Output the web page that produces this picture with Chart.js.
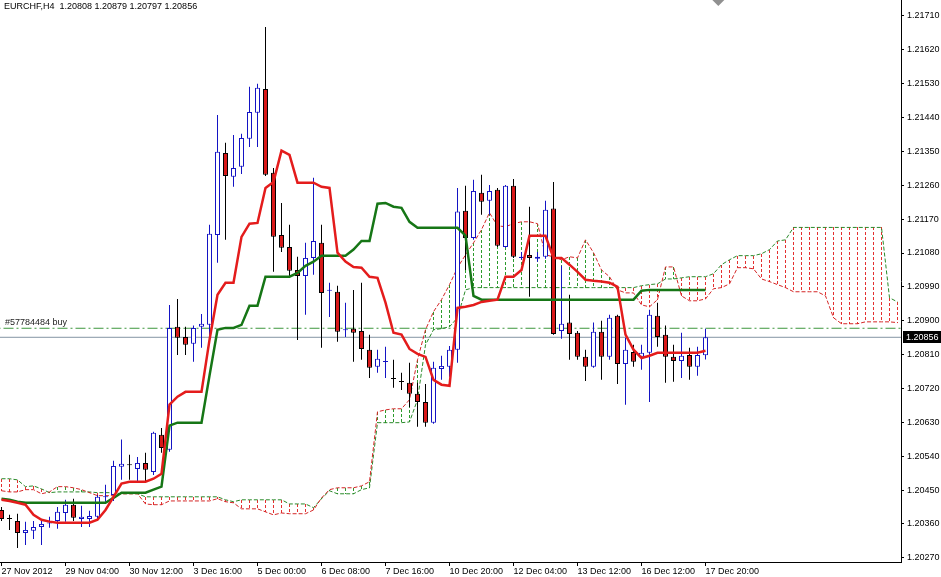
<!DOCTYPE html>
<html>
<head>
<meta charset="utf-8">
<script src="https://cdn.jsdelivr.net/npm/chart.js@4.4.0/dist/chart.umd.min.js"></script>
<style>
html, body { margin: 0; padding: 0; background: #fff; }
#wrap { width: 941px; height: 577px; }
</style>
</head>
<body>
<div id="wrap"><canvas id="chart" width="941" height="577"></canvas></div>
<script>
// EURCHF H4 candles, 27 Nov 2012 20:00 -> 17 Dec 2012 20:00
const opens = [
  1.20397, 1.20374, 1.20368, 1.20336, 1.20342, 1.20352, 1.20361, 1.20368, 1.20389, 1.20411,
  1.20373, 1.20373, 1.20379, 1.20431, 1.20437, 1.20512, 1.20517, 1.20506, 1.20522, 1.20498,
  1.20597, 1.20557, 1.20884, 1.20857, 1.20839, 1.20884, 1.20889, 1.21128, 1.21346, 1.21283,
  1.21309, 1.21384, 1.21453, 1.21516, 1.21293, 1.21128, 1.21096, 1.21035, 1.21019, 1.21067,
  1.21107, 1.20980, 1.20977, 1.20875, 1.20879, 1.20873, 1.20823, 1.20778, 1.20790, 1.20746,
  1.20738, 1.20735, 1.20706, 1.20684, 1.20629, 1.20772, 1.20778, 1.20823, 1.21192, 1.21120,
  1.21240, 1.21219, 1.21248, 1.21096, 1.21259, 1.21067, 1.21075, 1.21065, 1.21070, 1.21198,
  1.20873, 1.20895, 1.20868, 1.20804, 1.20778, 1.20871, 1.20804, 1.20913, 1.20785, 1.20817,
  1.20804, 1.20815, 1.20913, 1.20863, 1.20804, 1.20793, 1.20809, 1.20778, 1.20808
];
const highs = [
  1.20405, 1.20384, 1.20387, 1.20366, 1.20368, 1.20373, 1.20379, 1.20405, 1.20424, 1.20427,
  1.20408, 1.20395, 1.20437, 1.20464, 1.20528, 1.20584, 1.20544, 1.20538, 1.20549, 1.20605,
  1.20615, 1.20942, 1.20958, 1.20884, 1.20887, 1.20918, 1.21155, 1.21447, 1.21373, 1.21394,
  1.21397, 1.21522, 1.21530, 1.21681, 1.21306, 1.21213, 1.21155, 1.21070, 1.21107, 1.21280,
  1.21155, 1.21001, 1.20993, 1.20948, 1.20982, 1.21001, 1.20863, 1.20823, 1.20831, 1.20796,
  1.20762, 1.20788, 1.20735, 1.20732, 1.20791, 1.20807, 1.20833, 1.21253, 1.21259, 1.21275,
  1.21288, 1.21261, 1.21253, 1.21261, 1.21277, 1.21083, 1.21203, 1.21083, 1.21219, 1.21269,
  1.21046, 1.20969, 1.20873, 1.20823, 1.20895, 1.20900, 1.20916, 1.20916, 1.20855, 1.20836,
  1.20836, 1.20929, 1.20948, 1.20887, 1.20836, 1.20868, 1.20828, 1.20831, 1.20879
];
const lows = [
  1.20368, 1.20344, 1.20296, 1.20304, 1.20320, 1.20304, 1.20350, 1.20347, 1.20366, 1.20368,
  1.20352, 1.20352, 1.20373, 1.20419, 1.20421, 1.20477, 1.20477, 1.20469, 1.20472, 1.20490,
  1.20549, 1.20552, 1.20809, 1.20809, 1.20791, 1.20828, 1.20857, 1.21054, 1.21115, 1.21256,
  1.21290, 1.21362, 1.21362, 1.21285, 1.21030, 1.21083, 1.21014, 1.20849, 1.20916, 1.21022,
  1.20828, 1.20910, 1.20844, 1.20857, 1.20791, 1.20796, 1.20748, 1.20762, 1.20748, 1.20722,
  1.20716, 1.20671, 1.20618, 1.20618, 1.20626, 1.20743, 1.20751, 1.20788, 1.21035, 1.21115,
  1.21182, 1.21182, 1.21096, 1.21094, 1.21067, 1.21062, 1.20964, 1.21057, 1.21065, 1.20863,
  1.20852, 1.20796, 1.20796, 1.20740, 1.20775, 1.20743, 1.20796, 1.20732, 1.20677, 1.20778,
  1.20770, 1.20684, 1.20831, 1.20735, 1.20738, 1.20748, 1.20743, 1.20754, 1.20797
];
const closes = [
  1.20373, 1.20373, 1.20336, 1.20344, 1.20352, 1.20360, 1.20363, 1.20392, 1.20411, 1.20376,
  1.20379, 1.20381, 1.20432, 1.20432, 1.20514, 1.20520, 1.20516, 1.20522, 1.20504, 1.20602,
  1.20562, 1.20881, 1.20855, 1.20836, 1.20881, 1.20892, 1.21131, 1.21349, 1.21285, 1.21306,
  1.21386, 1.21455, 1.21519, 1.21288, 1.21123, 1.21094, 1.21033, 1.21019, 1.21067, 1.21112,
  1.20974, 1.20982, 1.20871, 1.20876, 1.20868, 1.20825, 1.20775, 1.20799, 1.20791, 1.20745,
  1.20737, 1.20706, 1.20684, 1.20629, 1.20775, 1.20780, 1.20823, 1.21190, 1.21120, 1.21245,
  1.21216, 1.21245, 1.21099, 1.21259, 1.21070, 1.21070, 1.21067, 1.21070, 1.21195, 1.20865,
  1.20892, 1.20865, 1.20804, 1.20778, 1.20871, 1.20804, 1.20908, 1.20785, 1.20823, 1.20791,
  1.20815, 1.20916, 1.20857, 1.20804, 1.20793, 1.20807, 1.20778, 1.20809, 1.20856
];

// Ichimoku lines
const tenkan = [
  1.20424, 1.20421, 1.20416, 1.20411, 1.20384, 1.20371, 1.20366, 1.20363, 1.20363, 1.20363,
  1.20363, 1.20363, 1.20371, 1.20397, 1.20432, 1.20467, 1.20472, 1.20472, 1.20472, 1.20480,
  1.20493, 1.20677, 1.20698, 1.20711, 1.20711, 1.20711, 1.20849, 1.20969, 1.21001, 1.21001,
  1.21123, 1.21158, 1.21160, 1.21253, 1.21269, 1.21352, 1.21341, 1.21267, 1.21267, 1.21267,
  1.21256, 1.21253, 1.21081, 1.21057, 1.21043, 1.21041, 1.21017, 1.21014, 1.20948, 1.20868,
  1.20863, 1.20825, 1.20812, 1.20804, 1.20743, 1.20730, 1.20727, 1.20934, 1.20937, 1.20942,
  1.20950, 1.20953, 1.20956, 1.21017, 1.21017, 1.21035, 1.21126, 1.21126, 1.21126, 1.21067,
  1.21067, 1.21049, 1.21030, 1.21009, 1.21006, 1.21004, 1.21001, 1.20990, 1.20863, 1.20823,
  1.20801, 1.20807, 1.20815, 1.20815, 1.20815, 1.20815, 1.20815, 1.20815, 1.20820
];
const kijun = [
  1.20427, 1.20424, 1.20419, 1.20416, 1.20416, 1.20416, 1.20416, 1.20416, 1.20416, 1.20416,
  1.20416, 1.20416, 1.20416, 1.20416, 1.20429, 1.20443, 1.20443, 1.20443, 1.20443, 1.20451,
  1.20459, 1.20621, 1.20629, 1.20629, 1.20629, 1.20629, 1.20754, 1.20876, 1.20881, 1.20881,
  1.20889, 1.20940, 1.20940, 1.21017, 1.21017, 1.21017, 1.21017, 1.21027, 1.21046, 1.21057,
  1.21073, 1.21073, 1.21073, 1.21073, 1.21089, 1.21112, 1.21112, 1.21211, 1.21213, 1.21203,
  1.21200, 1.21163, 1.21147, 1.21147, 1.21147, 1.21147, 1.21147, 1.21147, 1.21126, 1.20966,
  1.20956, 1.20956, 1.20956, 1.20956, 1.20956, 1.20956, 1.20956, 1.20956, 1.20956, 1.20956,
  1.20956, 1.20956, 1.20956, 1.20956, 1.20956, 1.20956, 1.20956, 1.20956, 1.20956, 1.20956,
  1.20980, 1.20982, 1.20982, 1.20982, 1.20982, 1.20982, 1.20982, 1.20982, 1.20982
];
// cloud, shifted 26 bars ahead
const spanA = [
  1.20448, 1.20445, 1.20445, 1.20451, 1.20451, 1.20440, 1.20445, 1.20459, 1.20459, 1.20456,
  1.20451, 1.20443, 1.20435, 1.20435, 1.20435, 1.20440, 1.20440, 1.20440, 1.20413, 1.20411,
  1.20411, 1.20421, 1.20421, 1.20421, 1.20421, 1.20421, 1.20421, 1.20427, 1.20419, 1.20416,
  1.20400, 1.20400, 1.20400, 1.20392, 1.20384, 1.20389, 1.20387, 1.20387, 1.20387, 1.20397,
  1.20429, 1.20451, 1.20456, 1.20456, 1.20456, 1.20461, 1.20472, 1.20658, 1.20663, 1.20666,
  1.20666, 1.20690, 1.20796, 1.20876, 1.20924, 1.20956, 1.20996, 1.21041, 1.21075, 1.21107,
  1.21142, 1.21187, 1.21152, 1.21150, 1.21158, 1.21163, 1.21163, 1.21158, 1.21075, 1.21070,
  1.21062, 1.21070, 1.21067, 1.21115, 1.21081, 1.21035, 1.21017, 1.20982, 1.20974, 1.20974,
  1.20942, 1.20937, 1.20956, 1.21043, 1.21043, 1.20966, 1.20953, 1.20953, 1.20958, 1.20985,
  1.20988, 1.20998, 1.21041, 1.21041, 1.21038, 1.21011, 1.21004, 1.20996, 1.20988, 1.20977,
  1.20977, 1.20977, 1.20977, 1.20966, 1.20908, 1.20892, 1.20892, 1.20892, 1.20897, 1.20897,
  1.20897, 1.20897, 1.20895
];
const spanB = [
  1.20480, 1.20480, 1.20477, 1.20459, 1.20461, 1.20453, 1.20443, 1.20445, 1.20445, 1.20445,
  1.20445, 1.20445, 1.20443, 1.20443, 1.20443, 1.20440, 1.20440, 1.20440, 1.20432, 1.20432,
  1.20432, 1.20432, 1.20432, 1.20432, 1.20432, 1.20432, 1.20432, 1.20432, 1.20424, 1.20419,
  1.20424, 1.20424, 1.20424, 1.20424, 1.20424, 1.20424, 1.20413, 1.20413, 1.20413, 1.20403,
  1.20427, 1.20448, 1.20440, 1.20440, 1.20440, 1.20451, 1.20456, 1.20629, 1.20629, 1.20629,
  1.20629, 1.20631, 1.20690, 1.20836, 1.20876, 1.20879, 1.20884, 1.20908, 1.20982, 1.20988,
  1.20988, 1.20988, 1.20988, 1.20988, 1.20988, 1.20988, 1.20988, 1.20988, 1.20988, 1.20988,
  1.20988, 1.20988, 1.20988, 1.20988, 1.20988, 1.20988, 1.20988, 1.20988, 1.20988, 1.20988,
  1.20993, 1.20996, 1.20998, 1.21011, 1.21011, 1.21014, 1.21017, 1.21017, 1.21017, 1.21025,
  1.21049, 1.21062, 1.21073, 1.21073, 1.21073, 1.21078, 1.21089, 1.21112, 1.21115, 1.21148,
  1.21148, 1.21148, 1.21148, 1.21148, 1.21148, 1.21148, 1.21148, 1.21148, 1.21148, 1.21148,
  1.21148, 1.20961, 1.20950
];

const xTickBars = [0, 8, 16, 24, 32, 40, 48, 56, 64, 72, 80, 88];
const xTickLabels = ['27 Nov 2012', '29 Nov 04:00', '30 Nov 12:00', '3 Dec 16:00', '5 Dec 00:00', '6 Dec 08:00',
  '7 Dec 16:00', '10 Dec 20:00', '12 Dec 04:00', '13 Dec 12:00', '16 Dec 12:00', '17 Dec 20:00'];
const yTicks = [1.2027, 1.2036, 1.2045, 1.2054, 1.2063, 1.2072, 1.2081, 1.2090, 1.2099,
  1.2108, 1.2117, 1.2126, 1.2135, 1.2144, 1.2153, 1.2162, 1.2171];

const titleText = 'EURCHF,H4  1.20808 1.20879 1.20797 1.20856';
const orderText = '#57784484 buy';
const orderPrice = 1.20880;
const bidPrice = 1.20856;

const BULL = '#1414c4';
const BEAR = '#d81818';
const SPAN_A_COLOR = '#d42626';
const SPAN_B_COLOR = '#2a8a2a';

Chart.defaults.font.family = '"Liberation Sans", Arial, sans-serif';
Chart.defaults.font.size = 9;
Chart.defaults.color = '#000';

const isBull = opens.map((o, i) => closes[i] > o);
const wickData = highs.map((h, i) => ({ x: i, y: [lows[i], h] }));
const bodyData = opens.map((o, i) => ({ x: i, y: [Math.min(o, closes[i]), Math.max(o, closes[i])] }));
const toXY = arr => arr.map((v, i) => ({ x: i, y: v }));

// dotted vertical hatching between the two senkou spans, one per bar
const kumoHatch = {
  id: 'kumoHatch',
  beforeDatasetsDraw(chart) {
    const { ctx, chartArea, scales: { x, y } } = chart;
    ctx.save();
    spanA.forEach((a, i) => {
      const b = spanB[i];
      const col = Math.floor(x.getPixelForValue(i));
      if (col < chartArea.left || col >= chartArea.right) return;
      const top = Math.round(Math.min(y.getPixelForValue(a), y.getPixelForValue(b)));
      const bottom = Math.round(Math.max(y.getPixelForValue(a), y.getPixelForValue(b)));
      ctx.fillStyle = a > b ? '#2c9a2c' : '#e43030';
      for (let py = top; py < bottom; py += 5) {
        ctx.fillRect(col, py, 1, Math.min(3, bottom - py));
      }
    });
    ctx.restore();
  }
};

const overlay = {
  id: 'overlay',
  afterDraw(chart) {
    const { ctx, scales: { x, y } } = chart;
    ctx.save();
    ctx.font = '9px "Liberation Sans", Arial, sans-serif';
    ctx.textBaseline = 'middle';
    ctx.fillStyle = '#000';
    ctx.fillText(titleText, 4, 7);
    ctx.fillStyle = '#222';
    ctx.fillText(orderText, 5, y.getPixelForValue(orderPrice) - 6);
    const by = Math.round(y.getPixelForValue(bidPrice));
    ctx.fillStyle = '#000';
    ctx.fillRect(x.right + 2, by - 6, 38, 12);
    ctx.fillStyle = '#fff';
    ctx.fillText(bidPrice.toFixed(5), x.right + 5, by + 0.5);
    // chart shift marker
    const sx = x.getPixelForValue(89.6);
    ctx.fillStyle = '#909090';
    ctx.beginPath();
    ctx.moveTo(sx - 6, 0); ctx.lineTo(sx + 6, 0); ctx.lineTo(sx, 6);
    ctx.closePath(); ctx.fill();
    ctx.restore();
  }
};

new Chart(document.getElementById('chart'), {
  type: 'bar',
  data: {
    datasets: [
      {
        type: 'line', label: 'Tenkan-sen', data: toXY(tenkan),
        borderColor: '#e41c1c', borderWidth: 2.5, pointRadius: 0, tension: 0, order: 0
      },
      {
        type: 'line', label: 'Kijun-sen', data: toXY(kijun),
        borderColor: '#167616', borderWidth: 2.5, pointRadius: 0, tension: 0, order: 0
      },
      {
        type: 'bar', label: 'Body', data: bodyData,
        backgroundColor: isBull.map(b => b ? '#ffffff' : BEAR),
        borderColor: isBull.map(b => b ? BULL : '#000000'),
        borderWidth: 1, borderSkipped: false, barThickness: 5, minBarLength: 1,
        grouped: false, inflateAmount: 0, order: 1
      },
      {
        type: 'bar', label: 'Wick', data: wickData,
        backgroundColor: isBull.map(b => b ? BULL : '#000000'),
        borderWidth: 0, barThickness: 1, grouped: false, inflateAmount: 0, order: 2
      },
      {
        type: 'line', label: 'Senkou Span A', data: toXY(spanA),
        borderColor: SPAN_A_COLOR, borderWidth: 1, borderDash: [4, 2], pointRadius: 0, tension: 0, order: 3
      },
      {
        type: 'line', label: 'Senkou Span B', data: toXY(spanB),
        borderColor: SPAN_B_COLOR, borderWidth: 1, borderDash: [4, 2], pointRadius: 0, tension: 0, order: 3
      },
      {
        type: 'line', label: 'order', data: [{ x: -2, y: orderPrice }, { x: 114, y: orderPrice }],
        borderColor: '#3c963c', borderWidth: 1, borderDash: [10, 3, 2, 3], pointRadius: 0, order: 4
      },
      {
        type: 'line', label: 'bid', data: [{ x: -2, y: bidPrice }, { x: 114, y: bidPrice }],
        borderColor: '#8494a4', borderWidth: 1, pointRadius: 0, order: 4
      }
    ]
  },
  options: {
    responsive: false,
    animation: false,
    events: [],
    layout: { padding: 0 },
    plugins: { legend: { display: false }, tooltip: { enabled: false }, title: { display: false } },
    scales: {
      x: {
        type: 'linear', offset: false,
        min: -0.1875, max: 112.4375,
        grid: { display: true, drawOnChartArea: false, drawTicks: true, tickLength: 4, color: '#000', offset: false },
        border: { display: true, color: '#000', width: 1 },
        ticks: {
          autoSkip: false, maxRotation: 0, align: 'start', padding: 0,
          callback: (v, i) => xTickLabels[i]
        },
        afterBuildTicks: s => { s.ticks = xTickBars.map(v => ({ value: v })); },
        afterFit: s => { s.height = 15; s.paddingLeft = 0; s.paddingRight = 0; }
      },
      y: {
        position: 'right',
        min: 1.202587, max: 1.217525,
        grid: { display: true, drawOnChartArea: false, drawTicks: true, tickLength: 3, color: '#000' },
        border: { display: true, color: '#000', width: 1 },
        ticks: { padding: 3, callback: v => Number(v).toFixed(5) },
        afterBuildTicks: s => { s.ticks = yTicks.map(v => ({ value: v })); },
        afterFit: s => { s.width = 40; s.paddingTop = 0; s.paddingBottom = 0; }
      }
    }
  },
  plugins: [kumoHatch, overlay]
});
</script>
</body>
</html>
